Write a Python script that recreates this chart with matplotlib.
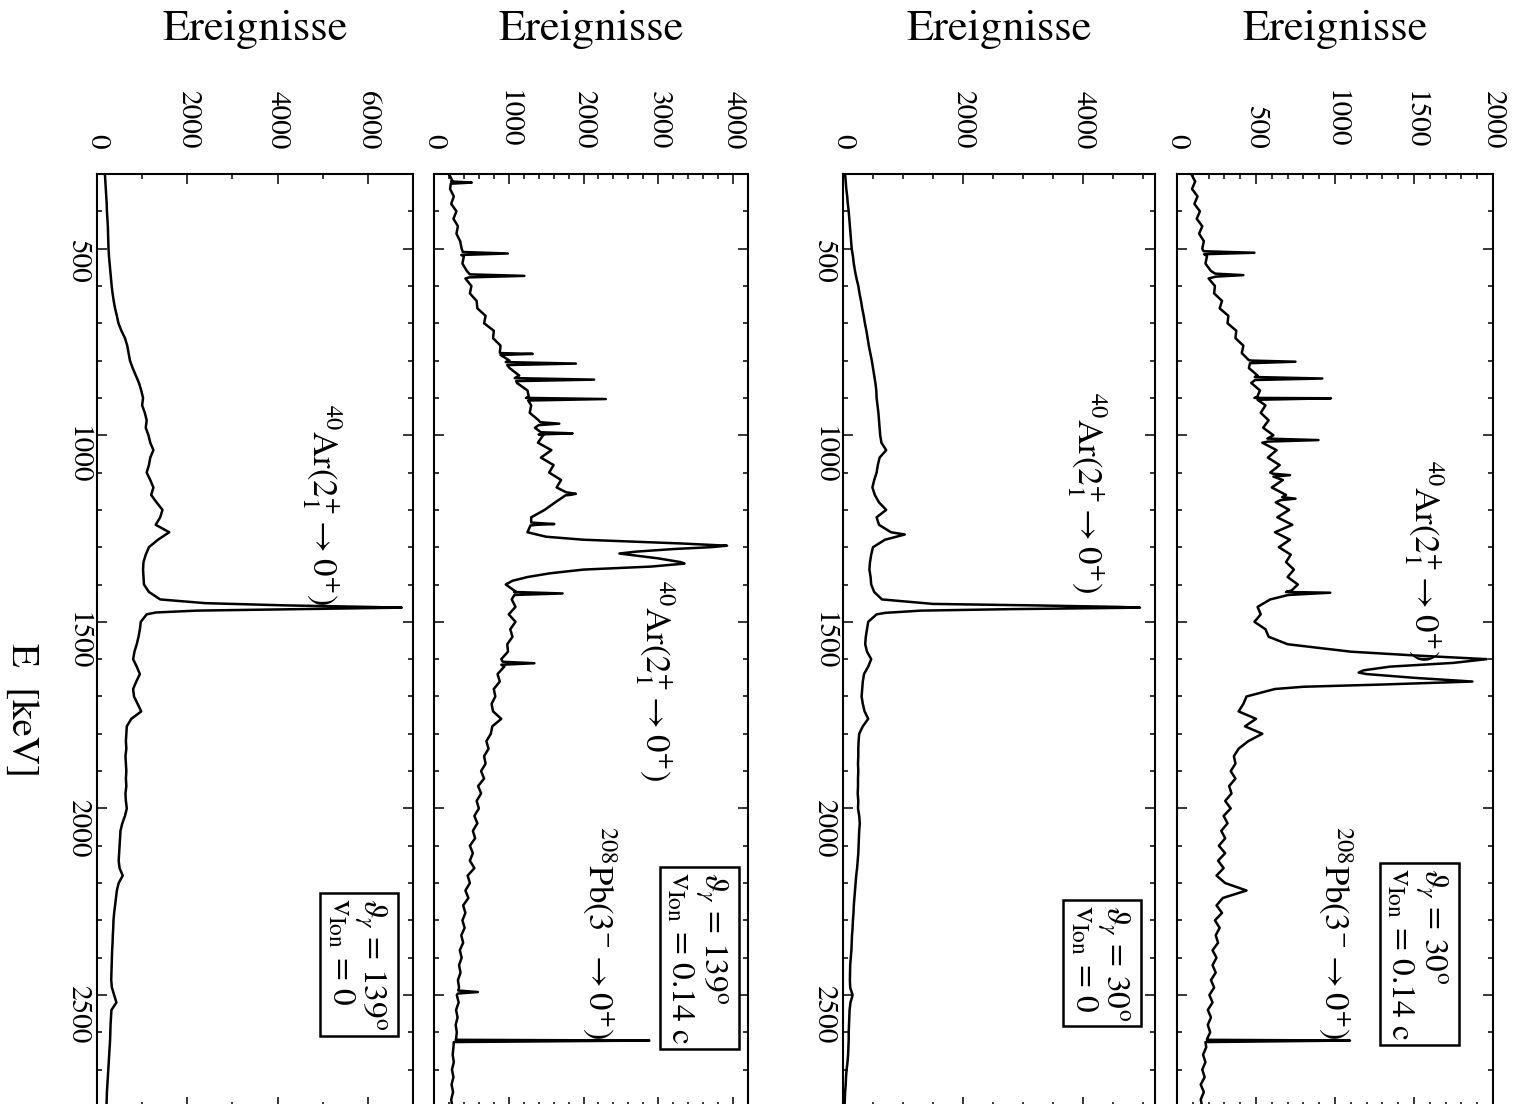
import numpy as np
import matplotlib.pyplot as plt
from matplotlib.ticker import MultipleLocator

plt.rcParams['font.family'] = ['STIXGeneral', 'Liberation Serif', 'DejaVu Serif']
plt.rcParams['mathtext.fontset'] = 'stix'

energie = np.arange(300, 2801, 20)

# Tafel A: theta = 30 Grad, v = 0.14 c
zaehl_a = [90, 115, 95, 130, 110, 145, 125, 160, 140, 170,
           160, 190, 180, 215, 200, 240, 235, 285, 270, 325,
           320, 375, 370, 420, 410, 475, 455, 510, 470, 525,
           490, 560, 530, 580, 545, 610, 540, 630, 575, 650,
           590, 670, 600, 690, 625, 710, 635, 730, 620, 715,
           645, 720, 690, 740, 700, 765, 690, 590, 510, 530,
           490, 560, 580, 700, 1100, 1960, 1350, 1200, 1870, 620,
           440, 420, 390, 500, 430, 540, 450, 390, 360, 370,
           340, 370, 330, 345, 305, 340, 295, 320, 280, 305,
           265, 305, 260, 295, 250, 305, 440, 290, 250, 285,
           240, 270, 245, 260, 225, 250, 225, 245, 215, 235,
           205, 225, 195, 215, 195, 210, 190, 185, 165, 180,
           160, 175, 150, 170, 150, 160]
linien_a_e = [507, 511, 515, 567, 571, 575, 799, 803, 807, 844, 848, 852,
              897, 901, 905, 1009, 1013, 1017, 1103, 1107, 1111, 1166, 1170, 1174,
              1416, 1422, 1428, 1590, 1610, 1630, 1636, 1650, 1668, 1674,
              2618, 2622, 2626]
linien_a_n = [168, 490, 172, 242, 420, 246, 455, 750, 462, 492, 920, 494,
              508, 975, 510, 572, 895, 575, 605, 715, 610, 665, 750, 655,
              725, 970, 705, 1500, 1750, 1180, 1150, 1500, 1300, 800,
              190, 1095, 180]

# Tafel B: theta = 30 Grad, v = 0
zaehl_b = [35, 45, 55, 70, 80, 95, 105, 115, 125, 135,
           145, 165, 180, 200, 225, 255, 275, 300, 320, 345,
           365, 390, 410, 430, 455, 480, 500, 520, 540, 555,
           560, 575, 590, 600, 610, 620, 640, 720, 610, 580,
           560, 520, 490, 530, 600, 720, 560, 600, 800, 700,
           500, 470, 450, 440, 460, 470, 520, 650, 4600, 560,
           420, 400, 380, 370, 400, 470, 420, 350, 330, 320,
           310, 330, 360, 420, 330, 270, 260, 255, 255, 250,
           255, 250, 250, 245, 255, 250, 270, 280, 270, 265,
           260, 255, 245, 235, 220, 210, 200, 190, 180, 175,
           165, 160, 150, 145, 140, 130, 120, 118, 115, 120,
           160, 125, 110, 105, 100, 95, 95, 90, 85, 75,
           60, 50, 45, 35, 30, 25]
linien_b_e = [1266, 1452, 1456, 1462, 1466, 1470, 1476]
linien_b_n = [1030, 1500, 3200, 4950, 2800, 1300, 700]

# Tafel C: theta = 139 Grad, v = 0.14 c
zaehl_c = [200, 250, 215, 265, 230, 300, 260, 320, 300, 350,
           370, 400, 380, 440, 420, 500, 480, 570, 580, 690,
           670, 800, 790, 890, 900, 1010, 1010, 1140, 1110, 1250,
           1230, 1300, 1280, 1400, 1350, 1460, 1390, 1570, 1430, 1600,
           1540, 1700, 1640, 1820, 1620, 1480, 1300, 1370, 1250, 2000,
           3700, 2600, 3300, 2000, 1250, 960, 1100, 1040, 1090, 1000,
           1090, 1020, 1050, 980, 990, 900, 940, 850, 880, 800,
           820, 770, 790, 900, 780, 760, 700, 730, 670, 690,
           630, 670, 590, 630, 570, 600, 540, 580, 520, 550,
           480, 520, 480, 540, 450, 480, 420, 460, 390, 420,
           380, 410, 365, 390, 345, 370, 335, 355, 320, 335,
           305, 330, 295, 315, 290, 305, 290, 260, 250, 265,
           240, 260, 235, 255, 230, 245]
linien_c_e = [320, 323, 326, 509, 513, 517, 569, 573, 577, 779, 782, 785,
              804, 808, 812, 847, 851, 855, 899, 903, 907, 965, 969, 973,
              992, 995, 998, 1153, 1157, 1161, 1234, 1238, 1242,
              1272, 1290, 1296, 1305, 1312, 1317, 1330, 1344, 1352, 1370, 1390,
              1420, 1424, 1428, 1607, 1611, 1615, 2488, 2492, 2496,
              2618, 2622, 2626]
linien_c_n = [228, 505, 225, 385, 987, 365, 480, 1209, 470, 880, 1320, 890,
              960, 1898, 980, 1080, 2142, 1100, 1270, 2298, 1260, 1420, 1676, 1400,
              1430, 1854, 1400, 1770, 1898, 1760, 1300, 1609, 1290,
              1500, 3300, 3920, 3200, 2700, 2480, 3000, 3350, 2900, 1550, 1050,
              1070, 1720, 1075, 920, 1343, 900, 325, 587, 320,
              295, 2880, 265]

# Tafel D: theta = 139 Grad, v = 0
zaehl_d = [175, 185, 195, 205, 215, 220, 230, 240, 245, 250,
           255, 265, 280, 295, 310, 325, 345, 370, 400, 440,
           475, 540, 620, 670, 700, 730, 790, 860, 930, 980,
           1020, 1000, 1060, 1100, 1080, 1140, 1180, 1250, 1180, 1150,
           1100, 1180, 1250, 1200, 1320, 1450, 1400, 1300, 1600, 1350,
           1150, 1080, 1030, 1020, 1030, 1040, 1150, 1400, 6000, 1100,
           970, 950, 920, 880, 830, 800, 880, 950, 870, 800,
           820, 900, 980, 760, 660, 650, 640, 650, 630, 640,
           650, 640, 650, 630, 640, 660, 620, 560, 520, 510,
           500, 490, 480, 500, 570, 480, 440, 420, 400, 380,
           365, 360, 350, 345, 335, 330, 325, 320, 315, 330,
           380, 430, 320, 310, 300, 295, 290, 280, 270, 260,
           250, 240, 230, 220, 215, 210]
linien_d_e = [1450, 1456, 1462, 1466, 1470, 1475]
linien_d_n = [2400, 4200, 6750, 4500, 2200, 1300]

ar_text = r'$^{40}$Ar(2$^{+}_{1}$$\rightarrow$0$^{+}$)'
pb_text = r'$^{208}$Pb(3$^{-}$$\rightarrow$0$^{+}$)'


def spektrum(kont, lin_e, lin_n):
    e = np.concatenate([energie, lin_e])
    n = np.concatenate([np.array(kont, float), lin_n])
    idx = np.argsort(e, kind='stable')
    return n[idx], e[idx]


def kasten(winkel, v):
    return (r'$\vartheta_\gamma$ = ' + winkel + r'$^{\rm o}$' + '\n'
            + r'v$_{\rm Ion}$ = ' + v)


fig = plt.figure(figsize=(15.19, 11.04), dpi=100)


def tafel(links, breite, kont, lin_e, lin_n, xmax, gross, klein, e_labels):
    ax = fig.add_axes([links, -0.0027, breite, 0.8451])
    n, e = spektrum(kont, lin_e, lin_n)
    ax.plot(n, e, color='black', lw=1.8)
    ax.set_xlim(0, xmax)
    ax.set_ylim(2800, 300)
    ax.xaxis.set_major_locator(MultipleLocator(gross))
    ax.xaxis.set_minor_locator(MultipleLocator(klein))
    ax.yaxis.set_major_locator(MultipleLocator(500))
    ax.yaxis.set_minor_locator(MultipleLocator(100))
    ax.tick_params(which='both', direction='in', top=True, bottom=True,
                   left=True, right=True, labeltop=True, labelbottom=False,
                   labelleft=e_labels, labelright=False, width=1.1)
    ax.tick_params(which='major', length=7)
    ax.tick_params(which='minor', length=3.5)
    ax.tick_params(axis='x', labelrotation=-90, labelsize=21, pad=18)
    ax.tick_params(axis='y', labelrotation=-90, labelsize=21, pad=5)
    for s in ax.spines.values():
        s.set_linewidth(1.5)
    mitte = links + breite / 2
    fig.text(mitte, 0.973, 'Ereignisse', fontsize=32, ha='center', va='center')
    return ax


box = dict(boxstyle='square,pad=0.15', fc='white', ec='black', lw=1.8)

ax_d = tafel(97 / 1519, 316 / 1519, zaehl_d, linien_d_e, linien_d_n, 7000, 2000, 1000, True)
ax_c = tafel(434 / 1519, 314 / 1519, zaehl_c, linien_c_e, linien_c_n, 4200, 1000, 200, False)
ax_b = tafel(843 / 1519, 312 / 1519, zaehl_b, linien_b_e, linien_b_n, 5200, 2000, 500, True)
ax_a = tafel(1177 / 1519, 316 / 1519, zaehl_a, linien_a_e, linien_a_n, 2000, 500, 100, False)

# Beschriftungen
ax_a.text(1563, 1337, ar_text, rotation=-90, fontsize=25, ha='center', va='center')
ax_a.text(1000, 2332, pb_text, rotation=-90, fontsize=25, ha='center', va='center')
ax_a.text(1519, 2391, kasten('30', '0.14 c'), rotation=-90, fontsize=24,
          ha='center', va='center', linespacing=0.85, multialignment='left', bbox=box)

ax_b.text(4067, 1153, ar_text, rotation=-90, fontsize=25, ha='center', va='center')
ax_b.text(4284, 2415, kasten('30', '0'), rotation=-90, fontsize=24,
          ha='center', va='center', linespacing=0.85, multialignment='left', bbox=box)

ax_c.text(2946, 1657, ar_text, rotation=-90, fontsize=25, ha='center', va='center')
ax_c.text(2213, 2332, pb_text, rotation=-90, fontsize=25, ha='center', va='center')
ax_c.text(3520, 2402, kasten('139', '0.14 c'), rotation=-90, fontsize=24,
          ha='center', va='center', linespacing=0.85, multialignment='left', bbox=box)

ax_d.text(4984, 1187, ar_text, rotation=-90, fontsize=25, ha='center', va='center')
ax_d.text(5759, 2418, kasten('139', '0'), rotation=-90, fontsize=24,
          ha='center', va='center', linespacing=0.85, multialignment='left', bbox=box)

fig.text(22 / 1519, 1 - 710 / 1104, 'E  [keV]', rotation=-90, fontsize=28,
         ha='center', va='center')

fig.savefig('out.png', dpi=100)
